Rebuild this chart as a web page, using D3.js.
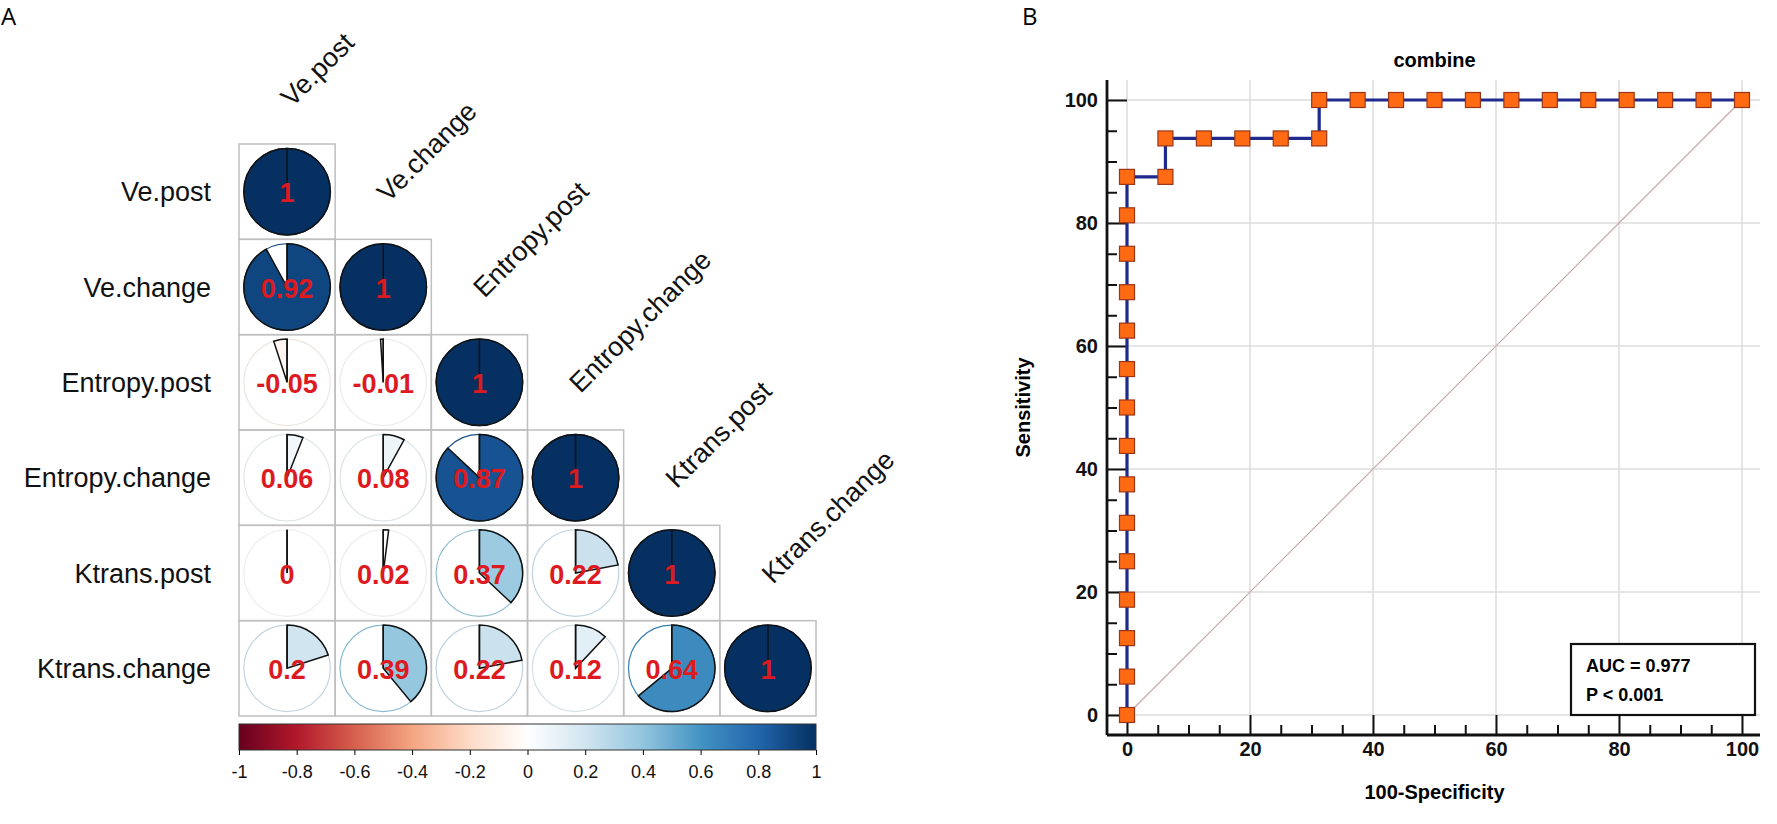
<!DOCTYPE html>
<html>
<head>
<meta charset="utf-8">
<script src="https://cdn.jsdelivr.net/npm/d3@7"></script>
<style>
  body { margin: 0; background: #fff; }
  svg { display: block; font-family: "Liberation Sans", Arial, sans-serif; }
</style>
</head>
<body>
<svg id="chart" width="1777" height="824"></svg>
<script>
// ---- data: correlation matrix (lower triangle) ----
const variables = ["Ve.post", "Ve.change", "Entropy.post", "Entropy.change", "Ktrans.post", "Ktrans.change"];
const corrRows = [
    [1],
    [0.92, 1],
    [-0.05, -0.01, 1],
    [0.06, 0.08, 0.87, 1],
    [0, 0.02, 0.37, 0.22, 1],
    [0.2, 0.39, 0.22, 0.12, 0.64, 1]
];
const colorTicks = [-1, -0.8, -0.6, -0.4, -0.2, 0, 0.2, 0.4, 0.6, 0.8, 1];
const palette = ["#67001F", "#B2182B", "#D6604D", "#F4A582", "#FDDBC7", "#FFFFFF",
                 "#D1E5F0", "#92C5DE", "#4393C3", "#2166AC", "#053061"];

// ---- data: ROC curve ----
const fpr = [0, 0, 0, 0, 0, 0, 0, 0, 0, 0, 0, 0, 0, 0, 0,
             6.25, 6.25, 12.5, 18.75, 25, 31.25, 31.25,
             37.5, 43.75, 50, 56.25, 62.5, 68.75, 75, 81.25, 87.5, 93.75, 100];
const tpr = [0, 6.25, 12.5, 18.75, 25, 31.25, 37.5, 43.75, 50, 56.25, 62.5, 68.75, 75, 81.25, 87.5,
             87.5, 93.75, 93.75, 93.75, 93.75, 93.75, 100,
             100, 100, 100, 100, 100, 100, 100, 100, 100, 100, 100];
const axisTicks = [0, 20, 40, 60, 80, 100];
const rocTitle = "combine";
const statLines = ["AUC = 0.977", "P < 0.001"];

const svg = d3.select("#chart");

// panel letters
svg.append("text").attr("x", 1).attr("y", 25)
    .style("font-family", "'Open Sans', sans-serif").style("font-size", "24px").text("A");
svg.append("text").attr("x", 1022).attr("y", 25)
    .style("font-family", "'Open Sans', sans-serif").style("font-size", "24px").text("B");

// ================= Panel A : corrplot =================
const gridLeft = 239, gridRight = 816, gridTop = 144, gridBottom = 716;

const col = d3.scaleBand().domain(variables).range([gridLeft, gridRight]);
const row = d3.scaleBand().domain(variables).range([gridTop, gridBottom]);
const color = d3.scaleLinear()
    .domain(colorTicks)
    .range(palette)
    .interpolate(d3.interpolateRgb);

const cells = [];
corrRows.forEach((vals, i) => {
    vals.forEach((v, j) => cells.push({ r: variables[i], c: variables[j], v: v }));
});

const radius = col.bandwidth() * 0.45;
const arc = d3.arc().innerRadius(0).outerRadius(radius);

const cellG = svg.append("g").selectAll("g")
    .data(cells)
    .enter().append("g")
    .attr("transform", d => `translate(${col(d.c) + col.bandwidth() / 2},${row(d.r) + row.bandwidth() / 2})`);

cellG.append("rect")
    .attr("x", -col.bandwidth() / 2)
    .attr("y", -row.bandwidth() / 2)
    .attr("width", col.bandwidth())
    .attr("height", row.bandwidth())
    .attr("fill", "none")
    .attr("stroke", "#bfbfbf")
    .attr("stroke-width", 1.5);

// background circle, outlined in the value colour
cellG.append("circle")
    .attr("r", radius)
    .attr("fill", "white")
    .attr("stroke", d => d3.color(color(d.v)).darker(0.2))
    .attr("stroke-width", 1.2);

// pie sector: clockwise from 12 o'clock for positive, counter-clockwise for negative
cellG.append("path")
    .attr("d", d => arc({ startAngle: 0, endAngle: d.v * 2 * Math.PI }))
    .attr("fill", d => color(d.v))
    .attr("stroke", "#111")
    .attr("stroke-width", 1.5);

cellG.append("line")
    .attr("x1", 0).attr("y1", 0)
    .attr("x2", 0).attr("y2", -radius)
    .attr("stroke", "#111")
    .attr("stroke-width", 1.5);

cellG.append("text")
    .attr("text-anchor", "middle")
    .attr("dy", "0.4em")
    .attr("fill", "#dc1a1f")
    .style("font-size", "27px")
    .style("font-weight", "bold")
    .text(d => String(d.v));

// row labels
svg.append("g").selectAll("text")
    .data(variables)
    .enter().append("text")
    .attr("x", gridLeft - 28)
    .attr("y", d => row(d) + row.bandwidth() / 2)
    .attr("dy", "0.36em")
    .attr("text-anchor", "end")
    .style("font-size", "27px")
    .attr("fill", "#111")
    .text(d => d);

// column labels, rotated 45 degrees above each diagonal cell
svg.append("g").selectAll("text")
    .data(variables)
    .enter().append("text")
    .attr("transform", d => `translate(${col(d) + col.bandwidth() / 2 + 5},${row(d) - 36}) rotate(-45)`)
    .style("font-size", "27px")
    .attr("fill", "#111")
    .text(d => d);

// colour legend
const legendTop = 724, legendH = 26;
const legendScale = d3.scaleLinear().domain([-1, 1]).range([gridLeft, gridRight]);

const grad = svg.append("defs").append("linearGradient")
    .attr("id", "rdbu").attr("x1", "0%").attr("x2", "100%");
grad.selectAll("stop")
    .data(colorTicks)
    .enter().append("stop")
    .attr("offset", d => ((d + 1) / 2 * 100) + "%")
    .attr("stop-color", d => color(d));

svg.append("rect")
    .attr("x", legendScale(-1))
    .attr("y", legendTop)
    .attr("width", legendScale(1) - legendScale(-1))
    .attr("height", legendH)
    .attr("fill", "url(#rdbu)")
    .attr("stroke", "#333")
    .attr("stroke-width", 1);

const legendAxis = svg.append("g")
    .attr("transform", `translate(0,${legendTop + legendH})`)
    .call(d3.axisBottom(legendScale)
        .tickValues(colorTicks)
        .tickSize(5)
        .tickPadding(10)
        .tickFormat(d => String(Math.round(d * 10) / 10)));
legendAxis.select(".domain").remove();
legendAxis.selectAll("text")
    .style("font-size", "18px")
    .style("font-family", "'Liberation Sans', Arial, sans-serif")
    .attr("fill", "#111");

// ================= Panel B : ROC curve =================
const axisX = 1107, plotTop = 80, plotRight = 1760, axisY = 735;
const x = d3.scaleLinear().domain([0, 100]).range([1127, 1742]);
const y = d3.scaleLinear().domain([0, 100]).range([715, 100]);

const roc = svg.append("g");

// grid
roc.append("g").selectAll("line")
    .data(axisTicks)
    .enter().append("line")
    .attr("x1", d => x(d)).attr("x2", d => x(d))
    .attr("y1", plotTop).attr("y2", axisY)
    .attr("stroke", "#dcdcdc").attr("stroke-width", 1.5);
roc.append("g").selectAll("line")
    .data(axisTicks)
    .enter().append("line")
    .attr("x1", axisX).attr("x2", plotRight)
    .attr("y1", d => y(d)).attr("y2", d => y(d))
    .attr("stroke", "#dcdcdc").attr("stroke-width", 1.5);

// reference diagonal
roc.append("line")
    .attr("x1", x(0)).attr("y1", y(0))
    .attr("x2", x(100)).attr("y2", y(100))
    .attr("stroke", "#c6a9a9").attr("stroke-width", 1.2);

// minor ticks every 5
const minorTicks = d3.range(5, 100, 5).filter(d => d % 20 !== 0);

const yAxisG = roc.append("g")
    .attr("transform", `translate(${axisX},0)`)
    .call(d3.axisLeft(y).tickValues(axisTicks).tickSizeInner(-(x(0) - axisX)).tickSizeOuter(0).tickPadding(9));
roc.append("g")
    .attr("transform", `translate(${axisX},0)`)
    .call(d3.axisLeft(y).tickValues(minorTicks).tickSizeInner(-10).tickSizeOuter(0).tickFormat(""))
    .select(".domain").remove();

const xAxisG = roc.append("g")
    .attr("transform", `translate(0,${axisY})`)
    .call(d3.axisBottom(x).tickValues(axisTicks).tickSizeInner(-(axisY - y(0))).tickSizeOuter(0).tickPadding(7));
roc.append("g")
    .attr("transform", `translate(0,${axisY})`)
    .call(d3.axisBottom(x).tickValues(minorTicks).tickSizeInner(-10).tickSizeOuter(0).tickFormat(""))
    .select(".domain").remove();

yAxisG.select(".domain").remove();
xAxisG.select(".domain").remove();
roc.selectAll(".tick line").attr("stroke", "#111").attr("stroke-width", 2);
roc.selectAll(".tick text")
    .style("font-size", "20px")
    .style("font-weight", "bold")
    .style("font-family", "'Liberation Sans', Arial, sans-serif")
    .attr("fill", "#111");

// axis lines
roc.append("line")
    .attr("x1", axisX).attr("x2", axisX)
    .attr("y1", plotTop).attr("y2", axisY)
    .attr("stroke", "#111").attr("stroke-width", 2.8);
roc.append("line")
    .attr("x1", axisX).attr("x2", plotRight)
    .attr("y1", axisY).attr("y2", axisY)
    .attr("stroke", "#111").attr("stroke-width", 2.8);

// ROC step line
const rocPts = fpr.map((f, i) => [f, tpr[i]]);
roc.append("path")
    .datum(rocPts)
    .attr("d", d3.line().x(d => x(d[0])).y(d => y(d[1])))
    .attr("fill", "none")
    .attr("stroke", "#1f2a8c")
    .attr("stroke-width", 3.2);

const ms = 15;
roc.append("g").selectAll("rect")
    .data(rocPts)
    .enter().append("rect")
    .attr("x", d => x(d[0]) - ms / 2)
    .attr("y", d => y(d[1]) - ms / 2)
    .attr("width", ms).attr("height", ms)
    .attr("fill", "#ff6a13")
    .attr("stroke", "#9a3517")
    .attr("stroke-width", 1.2);

// titles
roc.append("text")
    .attr("x", (x(0) + x(100)) / 2).attr("y", 67)
    .attr("text-anchor", "middle")
    .style("font-size", "20px").style("font-weight", "bold")
    .text(rocTitle);
roc.append("text")
    .attr("x", (x(0) + x(100)) / 2).attr("y", 799)
    .attr("text-anchor", "middle")
    .style("font-size", "20px").style("font-weight", "bold")
    .text("100-Specificity");
roc.append("text")
    .attr("transform", `translate(1030,${(y(0) + y(100)) / 2}) rotate(-90)`)
    .attr("text-anchor", "middle")
    .style("font-size", "20px").style("font-weight", "bold")
    .text("Sensitivity");

// statistics box
const box = roc.append("g").attr("transform", "translate(1571,644)");
box.append("rect")
    .attr("width", 184).attr("height", 71)
    .attr("fill", "white").attr("stroke", "#111").attr("stroke-width", 2.2);
box.selectAll("text")
    .data(statLines)
    .enter().append("text")
    .attr("x", 15)
    .attr("y", (d, i) => 28 + i * 29)
    .style("font-size", "18px").style("font-weight", "bold")
    .text(d => d);
</script>
</body>
</html>
